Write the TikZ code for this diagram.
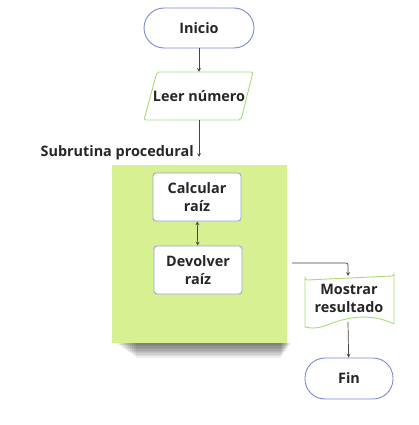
\documentclass[tikz,border=0pt]{standalone}
\usepackage{fontspec}
\setmainfont{Open Sans}
\usetikzlibrary{calc,shapes.geometric,positioning}
\definecolor{termline}{HTML}{7B86D6}
\definecolor{ioline}{HTML}{A6DE73}
\definecolor{boxline}{HTML}{9AA5C9}
\definecolor{subfill}{HTML}{D6F092}
\definecolor{arrowc}{HTML}{444444}
\tikzset{
  every node/.style = {font=\bfseries\Large, text=black!85},
  terminal/.style = {draw=termline, line width=0.9pt, rounded corners=20pt, minimum width=110pt, minimum height=40pt, fill=white},
  procbox/.style = {draw=boxline, line width=0.9pt, fill=white, rounded corners=3pt, minimum width=88pt, minimum height=48pt, align=center},
  flow/.style = {draw=arrowc, line width=0.7pt, ->, >=stealth},
}
\begin{document}
\begin{tikzpicture}[x=1pt,y=-1pt]
\useasboundingbox (0,0) rectangle (419,425);
% green block of the subroutine, with its shadow
\foreach \i in {0,...,9}
  \fill[black, opacity=0.065] (118+2*\i,343) rectangle (290-\i,345+1.4*\i);
\fill[subfill] (112,165) rectangle (287,343);
\node[terminal] (inicio) at (199,28) {Inicio};
% parallelogram for the input
\draw[ioline, line width=0.9pt, rounded corners=2pt] (157,72) -- (253,72) -- (241,120) -- (144,120) -- cycle;
\node[minimum height=48pt, inner sep=0pt] (leer) at (199,96) {Leer número};
\node[anchor=base east, inner sep=0pt] (sub) at (194,156) {Subrutina procedural};
\coordinate (subend) at (199,157);
\node[procbox] (calc) at (197,197) {Calcular\\raíz};
\node[procbox] (devol) at (198,270) {Devolver\\raíz};
% document shape
\draw[ioline, line width=0.9pt, fill=white] (305,281) -- (305,278) arc[start angle=180, end angle=90, radius=2] -- (392,276) arc[start angle=90, end angle=0, radius=2] -- (394,324)
  .. controls (370,312) and (345,318) .. (330,324) .. controls (320,328) and (312,329) .. (305,327) -- cycle;
\node[align=center] (mostrar) at (349,298) {Mostrar\\resultado};
\coordinate (mostrartop) at (348,276);
\coordinate (mostrarbot) at (348,322);
\node[terminal, minimum width=88pt, minimum height=41pt] (fin) at (349,378.5) {Fin};
\coordinate (subout) at (292,263);
% connectors
\draw[flow] (inicio) -- (leer);
\draw[flow] (leer) -- (subend);
\draw[flow, <->] (calc) -- (devol);
\draw[flow, rounded corners=2pt] (subout) -| (mostrartop);
\draw[flow] (mostrarbot) -- (fin);
\end{tikzpicture}
\end{document}
